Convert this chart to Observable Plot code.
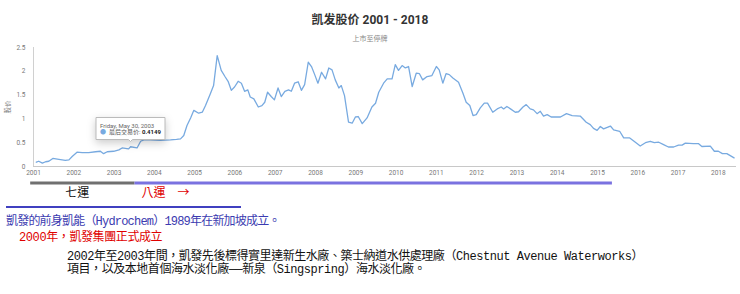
<!DOCTYPE html>
<html><head><meta charset="utf-8">
<script src="https://cdn.jsdelivr.net/npm/d3@7"></script>
<script src="https://cdn.jsdelivr.net/npm/@observablehq/plot@0.6"></script>
<style>
body{margin:0;background:#fff;width:740px;height:294px;position:relative;overflow:hidden;font-family:Roboto,"Noto Sans CJK SC",sans-serif;}
#title{position:absolute;top:12px;left:0;width:740px;text-align:center;font-weight:bold;font-size:12px;font-family:Roboto,"Noto Sans CJK SC",sans-serif;color:#333;line-height:16px}
#subtitle{position:absolute;top:33px;left:0;width:740px;text-align:center;font-size:7px;font-family:"Noto Sans CJK SC",sans-serif;color:#888;line-height:10px}
#chart{position:absolute;top:40px;left:0}
#rule{position:absolute;left:6px;top:206px;width:235px;height:2px;background:#4040c0}
.t{position:absolute;white-space:pre;font-family:"Liberation Mono","Noto Sans CJK TC",monospace;font-size:12px;line-height:12.5px;letter-spacing:-0.4px}
</style></head><body>
<div id="title"></div>
<div id="subtitle"></div>
<div id="chart"></div>
<div id="rule"></div>
<div class="t" id="l1" style="left:6px;top:216px;color:#3b3bb0;letter-spacing:-0.8px"></div>
<div class="t" id="l2" style="left:19px;top:232px;color:#e00000"></div>
<div class="t" id="l3" style="left:67px;top:251px;color:#111;letter-spacing:-0.45px"></div>
<div class="t" id="l4" style="left:67px;top:263.5px;color:#111;letter-spacing:-0.45px"></div>
<script>
const titleText = "凯发股价 2001 - 2018";
const subtitleText = "上市至停牌";
const yLabel = "股价";

const years = [2001.07,2001.13,2001.22,2001.30,2001.38,2001.48,2001.63,2001.79,2001.88,2001.96,
2002.08,2002.21,2002.37,2002.54,2002.66,2002.74,2002.83,2002.99,2003.12,2003.20,2003.36,2003.41,2003.57,2003.66,2003.74,2003.90,
2004.15,2004.40,2004.55,2004.65,2004.73,2004.81,2004.90,2004.98,2005.10,2005.19,2005.27,2005.39,2005.47,2005.56,2005.66,2005.76,2005.83,2005.91,2005.99,
2006.08,2006.16,2006.24,2006.32,2006.38,2006.47,2006.58,2006.67,2006.74,2006.81,2006.90,2006.98,
2007.07,2007.15,2007.24,2007.33,2007.40,2007.48,2007.57,2007.65,2007.73,2007.82,2007.90,2007.98,
2008.06,2008.15,2008.25,2008.33,2008.41,2008.49,2008.58,2008.64,2008.72,2008.82,2008.91,2008.99,
2009.06,2009.16,2009.28,2009.40,2009.49,2009.57,2009.69,2009.78,2009.90,2009.98,
2010.06,2010.15,2010.23,2010.31,2010.40,2010.50,2010.58,2010.66,2010.77,2010.89,2011.00,
2011.07,2011.16,2011.24,2011.32,2011.41,2011.55,2011.66,2011.74,2011.83,2011.91,2011.99,
2012.09,2012.19,2012.27,2012.40,2012.51,2012.61,2012.67,2012.75,2012.84,2012.96,
2013.04,2013.15,2013.23,2013.33,2013.41,2013.50,2013.58,2013.66,2013.75,2013.85,
2014.08,2014.23,2014.37,2014.57,2014.72,2014.82,2014.90,2014.99,2015.07,2015.15,2015.32,2015.40,2015.55,2015.65,2015.80,2015.94,
2016.06,2016.19,2016.31,2016.41,2016.52,2016.64,2016.76,2016.89,2017.01,2017.10,2017.18,2017.38,2017.51,2017.59,2017.80,2017.90,
2018.00,2018.10,2018.21,2018.39];
const prices = [0.09,0.11,0.07,0.10,0.11,0.17,0.15,0.13,0.14,0.21,
0.30,0.29,0.29,0.31,0.32,0.27,0.31,0.32,0.35,0.39,0.37,0.4149,0.39,0.53,0.56,0.56,
0.55,0.56,0.57,0.58,0.65,0.86,1.02,1.18,1.12,1.14,1.28,1.53,1.70,2.33,2.02,1.88,1.79,1.60,1.67,
1.79,1.75,1.58,1.61,1.46,1.42,1.25,1.28,1.35,1.56,1.47,1.40,
1.65,1.47,1.58,1.61,1.58,1.75,1.78,1.60,1.72,2.19,2.10,1.93,
1.75,1.98,1.84,2.07,2.03,1.82,1.65,1.70,1.49,0.93,0.91,1.04,
1.05,0.90,1.02,1.25,1.33,1.56,1.75,1.84,1.84,2.14,
2.02,2.12,2.07,2.10,1.68,1.96,1.95,1.82,1.89,1.91,2.10,
2.03,1.75,1.95,1.93,1.86,1.77,1.54,1.35,1.28,1.07,1.09,
1.23,1.33,1.33,1.14,1.21,1.25,1.21,1.26,1.21,1.14,
1.15,1.25,1.30,1.21,1.19,1.11,1.16,1.06,1.09,1.04,
1.04,1.11,1.07,1.06,0.93,0.88,0.80,0.76,0.84,0.79,0.85,0.77,0.74,0.60,0.60,0.51,
0.43,0.50,0.53,0.50,0.51,0.46,0.41,0.41,0.45,0.45,0.49,0.48,0.48,0.42,0.43,0.32,
0.32,0.27,0.27,0.18];

const xTicks = [2001,2002,2003,2004,2005,2006,2007,2008,2009,2010,2011,2012,2013,2014,2015,2016,2017,2018];
const yTicks = [0,0.5,1,1.5,2,2.5];
const yTickLabels = ["0","0.5","1","1.5","2","2.5"];

const eraNames = ["七運","八運　→"];
const eraStart = [2000.93,2003.52];
const eraEnd = [2003.52,2015.37];
const eraColors = ["#707070","#7a72e0"];
const eraLabelX = [2001.79,2003.68];
const eraLabelColors = ["#111111","#e00000"];

const tipYear = 2003.41;
const tipPrice = 0.4149;
const tipDate = "Friday, May 30, 2003";
const tipLabel = "最后交易价";

const notes = [
  "凱發的前身凱能（Hydrochem）1989年在新加坡成立。",
  "2000年，凱發集團正式成立",
  "2002年至2003年間，凱發先後標得實里達新生水廠、築士納道水供處理廠（Chestnut Avenue Waterworks）",
  "項目，以及本地首個海水淡化廠——新泉（Singspring）海水淡化廠。"
];

document.getElementById("title").textContent = titleText;
document.getElementById("subtitle").textContent = subtitleText;
["l1","l2","l3","l4"].forEach((id,i)=>document.getElementById(id).textContent = notes[i]);

const data = years.map((x,i)=>({year:x, price:prices[i]}));
const eras = eraNames.map((n,i)=>({name:n,start:eraStart[i],end:eraEnd[i],color:eraColors[i],lx:eraLabelX[i],lcolor:eraLabelColors[i]}));
const tipData = [{year:tipYear, price:tipPrice}];

const marks = [
  Plot.ruleX([xTicks[0]], {stroke:"#d0d0d0"}),
  Plot.ruleY([yTicks[0]], {stroke:"#c8c8c8"}),
  Plot.axisX({ticks:xTicks, tickFormat:d3.format("d"), tickSize:0, tickPadding:4, label:null}),
  Plot.axisY({ticks:yTicks, tickFormat:d=>yTickLabels[yTicks.indexOf(d)], tickSize:0, tickPadding:8, label:yLabel, labelAnchor:"center", labelArrow:"none", labelOffset:28}),
  Plot.lineY(data, {x:"year", y:"price", stroke:"#78aae0", strokeWidth:1.3}),
  Plot.ruleY(eras, {x1:"start", x2:"end", y:0, dy:16.5, stroke:d=>d.color, strokeWidth:3}),
  Plot.text(eras, {x:"lx", y:0, dy:26.5, text:"name", fill:d=>d.lcolor, textAnchor:"start", fontSize:12, fontFamily:"'Noto Sans CJK TC', sans-serif"})
];
if (Plot.tip) {
  marks.push(Plot.tip(tipData, {x:"year", y:"price", title:d=>`${tipDate}\n● ${tipLabel}: ${d.price}`, anchor:"bottom", dy:-5, fontSize:6, textPadding:4, pointerSize:4, fill:"white", stroke:"#bbb"}));
}

const chart = Plot.plot({
  width:740, height:160, marginTop:7, marginBottom:34, marginLeft:33, marginRight:4,
  style:{fontFamily:"Roboto, 'Noto Sans CJK SC', sans-serif", fontSize:"6.5px", color:"#777", background:"transparent", overflow:"visible"},
  x:{type:"linear", domain:[2001,2018.45]},
  y:{domain:[0,2.5]},
  color:{type:"identity"},
  marks
});
document.getElementById("chart").append(chart);

const svgns = "http://www.w3.org/2000/svg";
function styleTip() {
  const tipG = chart.querySelector('g[aria-label="tip"]');
  if (!tipG) return;
  tipG.querySelectorAll("tspan").forEach(ts=>{
    if (ts.children.length) return;
    if (ts.closest("[data-done]")) return;
    const s = ts.textContent;
    if (s.includes(tipLabel)) {
      ts.setAttribute("data-done","1");
      ts.textContent = "";
      const mk=(t,a)=>{const e=document.createElementNS(svgns,"tspan");e.textContent=t;for(const k in a)e.setAttribute(k,a[k]);return e;};
      const rest = s.replace("●","").trim();
      const i = rest.lastIndexOf(": ");
      const head = i >= 0 ? rest.slice(0,i) : tipLabel;
      const val = i >= 0 ? rest.slice(i+2) : String(tipPrice);
      ts.append(mk("●",{fill:"#78aae0"}), mk(" "+head+": ",{fill:"#555"}), mk(val,{"font-weight":"bold",fill:"#222"}));
    } else if (s.includes(tipDate)) {
      ts.setAttribute("fill","#666");
    }
  });
}
styleTip();
requestAnimationFrame(()=>{ styleTip(); requestAnimationFrame(styleTip); });
setTimeout(styleTip, 30);
</script>
</body></html>
